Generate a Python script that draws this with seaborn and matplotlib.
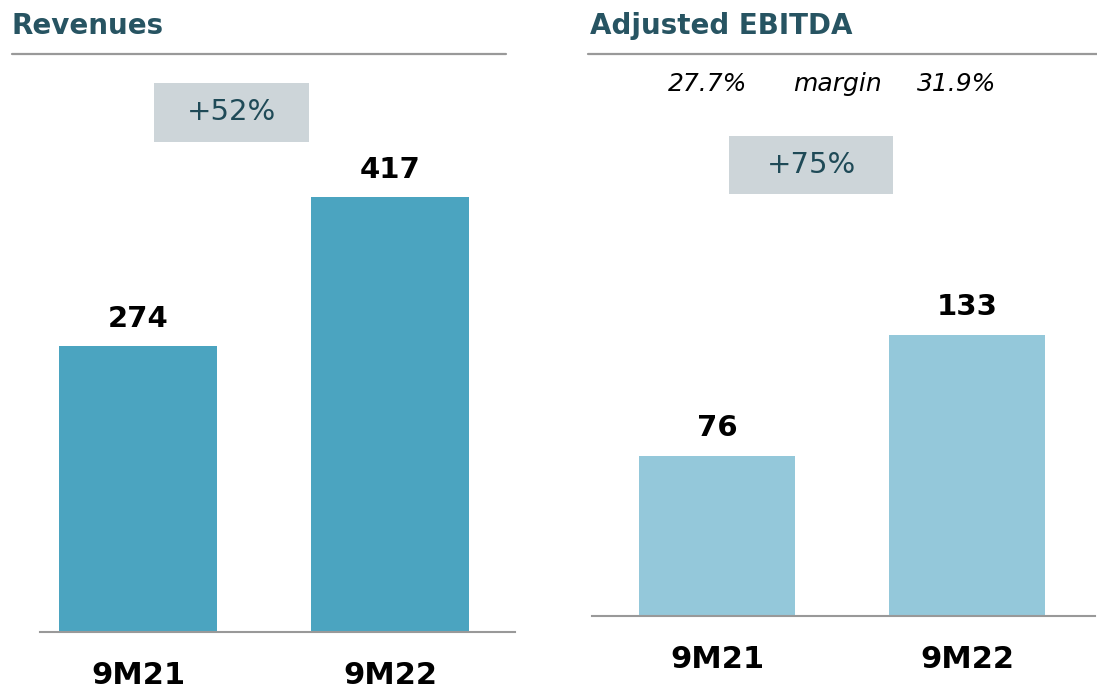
import matplotlib
matplotlib.use("Agg")
import matplotlib.pyplot as plt
import seaborn as sns
import pandas as pd
from matplotlib.patches import Rectangle
from matplotlib.lines import Line2D

# data
periods = ["9M21", "9M22"]
revenues = [274, 417]
ebitda = [76, 133]
margins = ["27.7%", "31.9%"]

W, H = 1097, 691
TITLE_C = "#275462"
BOX_C = "#cdd5d9"

sns.set_theme(style="white")
plt.rcParams["font.family"] = ["DejaVu Sans"]

fig = plt.figure(figsize=(W / 100, H / 100), dpi=100)


def px_axes(x0, x1, y_top, y_base):
    # axes box given in pixel coordinates (origin top-left)
    return fig.add_axes([x0 / W, 1 - y_base / H, (x1 - x0) / W, (y_base - y_top) / H])


def panel(ax, values, color, c0, step, x0, x1, y_top, y_base, px_per_unit, pad):
    df = pd.DataFrame({"period": periods, "value": values})
    sns.barplot(data=df, x="period", y="value", color=color, width=0.625,
                saturation=1, linewidth=0, ax=ax)
    ax.set_xlim(-(c0 - x0) / step, (x1 - c0) / step)
    ax.set_ylim(0, (y_base - y_top) / px_per_unit)
    for c in ax.containers:
        ax.bar_label(c, fmt="%d", padding=10, fontsize=21, fontweight="bold",
                     color="black")
    ax.set_xlabel("")
    ax.set_ylabel("")
    ax.set_yticks([])
    for s in ["top", "left", "right"]:
        ax.spines[s].set_visible(False)
    ax.spines["bottom"].set_color("#999999")
    ax.spines["bottom"].set_linewidth(1.5)
    ax.tick_params(axis="x", length=0, pad=pad, labelsize=22)
    for t in ax.get_xticklabels():
        t.set_fontweight("bold")
        t.set_color("black")
    ax.patch.set_alpha(0)


# left panel: revenues
ax1 = px_axes(40, 515, 80, 632)
panel(ax1, revenues, "#4ba4c0", 138, 252, 40, 515, 80, 632, 1.042, 21)

# right panel: adjusted EBITDA
ax2 = px_axes(592, 1095, 80, 616)
panel(ax2, ebitda, "#94c8da", 717, 250, 592, 1095, 80, 616, 2.11, 21)

# titles with grey rule
fig.text(12 / W, 1 - 26 / H, "Revenues", fontsize=20, fontweight="bold",
         color=TITLE_C, va="center", ha="left")
fig.text(590 / W, 1 - 26 / H, "Adjusted EBITDA", fontsize=20, fontweight="bold",
         color=TITLE_C, va="center", ha="left")
for a, b in [(12, 506), (588, 1097)]:
    fig.add_artist(Line2D([a / W, b / W], [1 - 54 / H, 1 - 54 / H],
                          color="#999999", lw=1.6))

# growth boxes
growth = [revenues[1] / revenues[0] - 1, ebitda[1] / ebitda[0] - 1]
for (bx0, by0, bx1, by1), g in zip([(154, 83, 309, 142), (729, 136, 893, 194)], growth):
    fig.add_artist(Rectangle((bx0 / W, 1 - by1 / H), (bx1 - bx0) / W, (by1 - by0) / H,
                             facecolor=BOX_C, edgecolor="none"))
    fig.text((bx0 + bx1) / 2 / W, 1 - (by0 + by1) / 2 / H, f"+{g * 100:.0f}%",
             fontsize=21, color="#1f4a57", ha="center", va="center")

# margin line
fig.text(708 / W, 1 - 84 / H, margins[0], fontsize=18, style="italic",
         color="black", ha="center", va="center")
fig.text(838 / W, 1 - 84 / H, "margin", fontsize=18, style="italic",
         color="black", ha="center", va="center")
fig.text(957 / W, 1 - 84 / H, margins[1], fontsize=18, style="italic",
         color="black", ha="center", va="center")

fig.savefig("out.png", dpi=100, facecolor="white")
